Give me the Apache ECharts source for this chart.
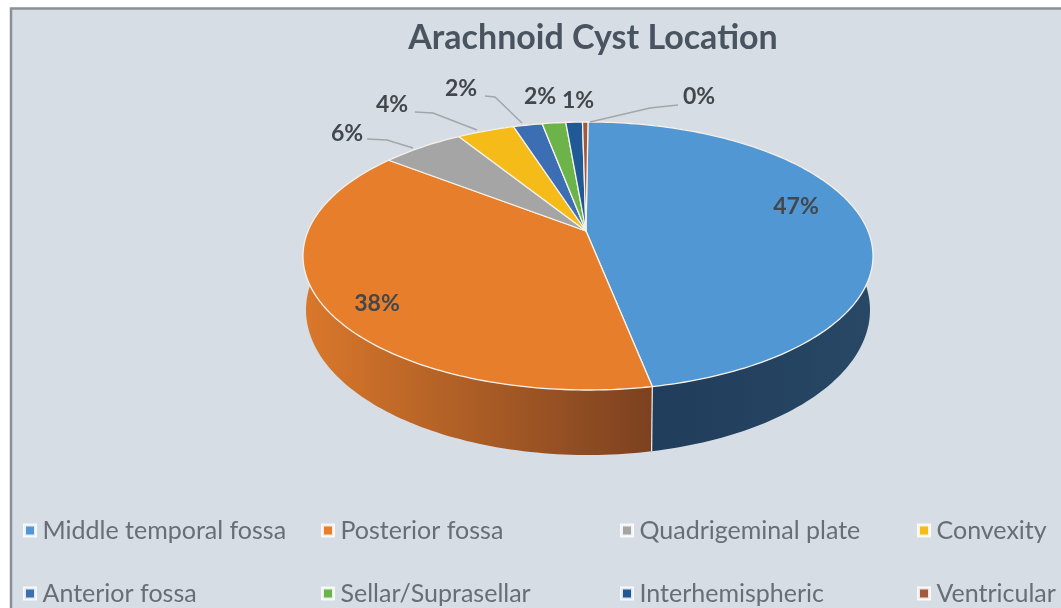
<!DOCTYPE html>
<html>
<head>
<meta charset="utf-8">
<title>Arachnoid Cyst Location</title>
<script src="https://cdn.jsdelivr.net/npm/echarts@6/dist/echarts.min.js"></script>
<style>
html, body { margin: 0; padding: 0; background: #fff; }
#container { width: 1061px; height: 608px; }
</style>
</head>
<body>
<div id="container"></div>
<script>
const categories = ['Middle temporal fossa', 'Posterior fossa', 'Quadrigeminal plate', 'Convexity',
    'Anterior fossa', 'Sellar/Suprasellar', 'Interhemispheric', 'Ventricular'];
const values = [46.97, 38.4, 5.6, 3.9, 1.97, 1.6, 1.13, 0.37];
const colors = ['#5097d3', '#e67e2c', '#a5a5a5', '#f5bb18', '#3c6eb4', '#6cb34a', '#1f5a96', '#a0583f'];

// label centres and leader lines, in pixels (layout only)
const labelPos = [[796, 207], [377, 304], [347, 134], [392, 105], [461, 89], [540, 97], [578, 101], [699, 97]];
const leaders = {
    2: [[367, 139], [387, 140], [413, 148]],
    3: [[415, 112], [433, 113], [477, 130]],
    4: [[485, 96], [495, 97], [522, 123]],
    7: [[678, 105], [650, 108], [590, 122]]
};
const legendLeft = [23, 321, 620, 917];
const legendTop = [518, 581];

const font = 'Lato, "Open Sans", sans-serif';
const topFace = { cx: 588, cy: 256, rx: 285, ry: 134 };
const bottomFace = { cx: 588, cy: 310, rx: 282, ry: 145 };
const apex = [586, 231];
const tilt = -0.187; // perspective: pushes the pie centre up the ellipse

// side wall shading, only the two big slices show their wall
const wallStops = {
    0: ['#1e3a58', '#284866'],
    1: ['#da782b', '#7c4120']
};
const hiddenWall = ['#555555', '#555555'];

const total = values.reduce((a, b) => a + b, 0);
let running = 0;
const starts = values.map(v => { let s = running; running += v; return s; });

function project(angle, face) {
    let x = Math.sin(angle), y = -Math.cos(angle);
    let d = 1 + tilt * y;
    return [
        face.cx + face.rx * x * Math.sqrt(1 - tilt * tilt) / d,
        face.cy + face.ry * (y + tilt) / d
    ];
}

function arc(a0, a1, face) {
    let n = Math.max(2, Math.ceil((a1 - a0) / 0.02));
    let pts = [];
    for (let k = 0; k <= n; k++) {
        pts.push(project(a0 + (a1 - a0) * k / n, face));
    }
    return pts;
}

function wallFill(i) {
    let stops = wallStops[i] || hiddenWall;
    return {
        type: 'linear', x: 0, y: 0, x2: 1, y2: 0,
        colorStops: [{ offset: 0, color: stops[0] }, { offset: 1, color: stops[1] }]
    };
}

function makeRender(i) {
    return function () {
        let a0 = starts[i] / total * Math.PI * 2;
        let a1 = (starts[i] + values[i]) / total * Math.PI * 2;
        let top = arc(a0, a1, topFace);
        let bottom = arc(a0, a1, bottomFace);
        let children = [
            {
                type: 'polygon', z2: 1,
                shape: { points: top.concat(bottom.slice().reverse()) },
                style: { fill: wallFill(i) }
            },
            {
                type: 'line', z2: 2,
                shape: {
                    x1: top[top.length - 1][0], y1: top[top.length - 1][1],
                    x2: bottom[bottom.length - 1][0], y2: bottom[bottom.length - 1][1]
                },
                style: { stroke: '#eef0f0', lineWidth: 1.2 }
            },
            {
                type: 'polygon', z2: 3,
                shape: { points: [apex].concat(top) },
                style: { fill: colors[i], stroke: '#f6f2ea', lineWidth: 1.3, lineJoin: 'round' }
            },
            {
                type: 'text', z2: 6,
                x: labelPos[i][0], y: labelPos[i][1],
                style: {
                    text: Math.round(values[i] / total * 100) + '%',
                    fill: '#43474c', font: 'bold 23px ' + font,
                    align: 'center', verticalAlign: 'middle'
                }
            }
        ];
        if (leaders[i]) {
            children.push({
                type: 'polyline', z2: 5,
                shape: { points: leaders[i] },
                style: { fill: 'none', stroke: '#a3a7ab', lineWidth: 1.5 }
            });
        }
        return { type: 'group', children: children };
    };
}

let dom = document.getElementById('container');
let myChart = echarts.init(dom);
let option = {
    animation: false,
    color: colors,
    title: {
        text: 'Arachnoid Cyst Location',
        left: 588,
        top: 16,
        textAlign: 'center',
        textStyle: { fontFamily: font, fontSize: 34, fontWeight: 'bold', color: '#4a5460' }
    },
    graphic: [{
        type: 'rect', silent: true, z: -10,
        shape: { x: 11, y: 8.5, width: 1070, height: 620 },
        style: { fill: '#d6dde5', stroke: '#8b9095', lineWidth: 2.5 }
    }],
    legend: categories.map((name, i) => ({
        data: [name],
        left: legendLeft[i % 4],
        top: legendTop[i < 4 ? 0 : 1],
        padding: 0,
        icon: 'rect',
        itemWidth: 11,
        itemHeight: 11,
        selectedMode: false,
        itemStyle: { borderColor: 'rgba(255,255,255,0.85)', borderWidth: 3 },
        textStyle: { fontFamily: font, fontSize: 25, color: '#686d76', padding: [0, 0, 0, 2] }
    })),
    series: categories.map((name, i) => ({
        name: name,
        type: 'custom',
        coordinateSystem: 'none',
        silent: true,
        data: [[values[i]]],
        renderItem: makeRender(i)
    }))
};
myChart.setOption(option, true);
</script>
</body>
</html>
